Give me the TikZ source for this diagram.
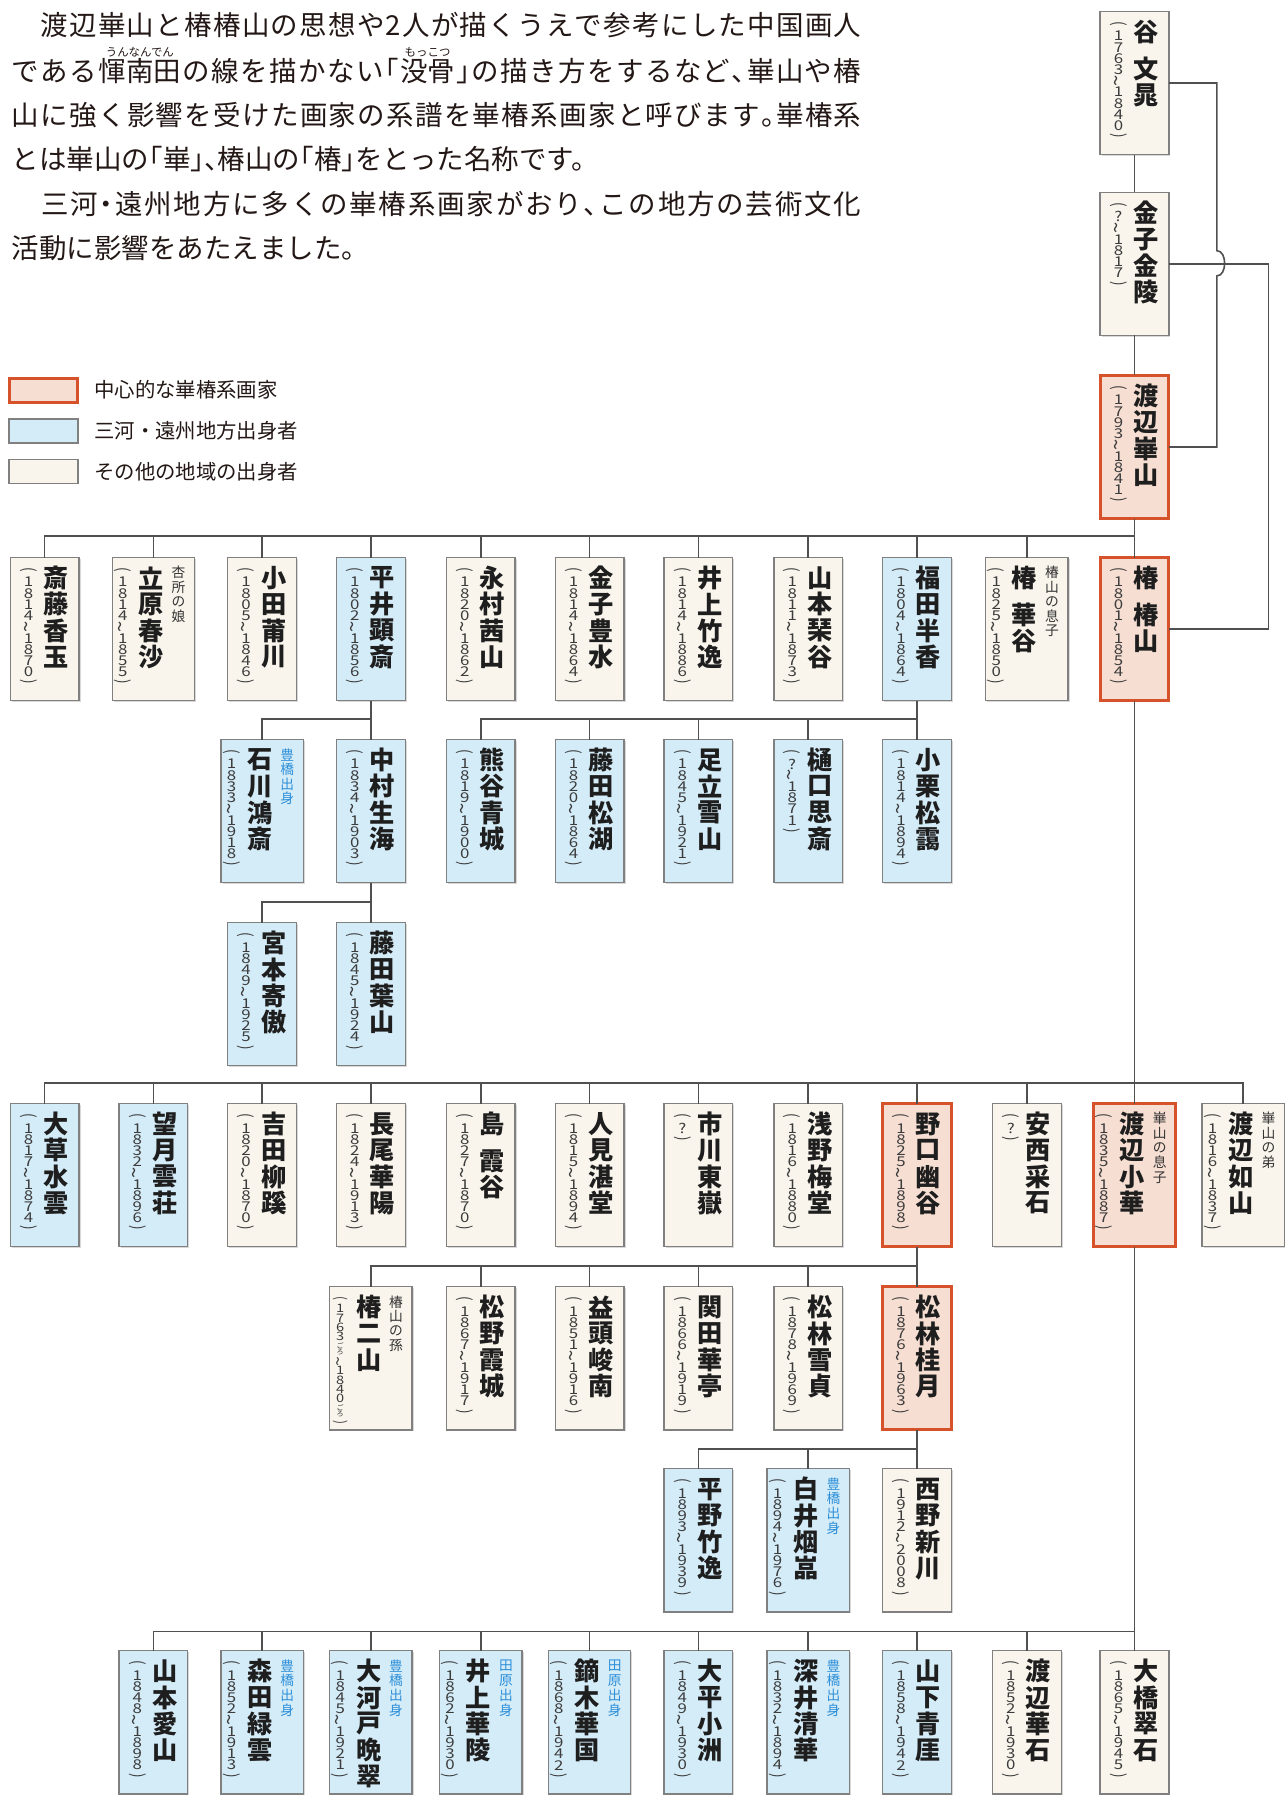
\documentclass[tikz,border=0pt]{standalone}
\usepackage{fontspec}
\usepackage{graphicx}
\usetikzlibrary{shadows}
\setmainfont{Noto Sans CJK JP}
\newfontfamily\parafont[RawFeature=+halt]{Noto Sans CJK JP}
\definecolor{cream}{HTML}{F9F5EC}
\definecolor{lblue}{HTML}{D4ECF8}
\definecolor{peach}{HTML}{F6DED2}
\definecolor{vermil}{HTML}{D5522B}
\definecolor{boxgray}{HTML}{808080}
\definecolor{linegray}{HTML}{505050}
\definecolor{noteblue}{HTML}{2E8FD8}
\definecolor{notegray}{HTML}{333333}
\definecolor{textcol}{HTML}{231815}
\definecolor{namecol}{HTML}{1E1E1E}
\definecolor{yrcol}{HTML}{3C3C3C}
\makeatletter
\newdimen\vsp
\def\Vgap{}
\def\Vgr{\vbox{\offinterlineskip\hbox{\fontsize{3.1pt}{3.1pt}\selectfont ご}\hbox{\fontsize{3.1pt}{3.1pt}\selectfont ろ}}}
\def\vs@Gitem{\Vgap}
\def\vs@GRitem{\Vgr}
\def\vsw#1{#1}
\newcommand\vst[2]{\vsp=#1\relax\vbox{\offinterlineskip\@tfor\vs@c:=#2\do{%
  \ifx\vs@c\vs@Gitem\vskip.4\vsp
  \else\ifx\vs@c\vs@GRitem\hbox to 0pt{\hss\vbox to1.6\vsp{\vss\hbox{\Vgr}\vss}\hss}%
  \else\hbox to 0pt{\hss\vbox to\vsp{\vss\hbox{\vsw{\vs@c}}\vss}\hss}\fi\fi}}}
\newcommand\jl[2]{\hbox to #1{\def\jl@s{}\@tfor\jl@c:=#2\do{\jl@s\jl@c\def\jl@s{\hfil}}}}
\newcommand\colat[3]{\rlap{\hskip#1\vbox to 62.5pt{\vskip#2\hbox to 0pt{\hss#3\hss}\vss}}}
\def\Vpo{\rotatebox[origin=c]{-90}{(}}
\def\Vpc{\rotatebox[origin=c]{-90}{)}}
\def\Vti{\rotatebox[origin=c]{90}{\scalebox{1.5}[1.2]{\textasciitilde}}}
\def\nmw{\bfseries}
\def\ncol{notegray}
\def\ypch{4.9pt}
\def\yfs{5.9pt}
\newcommand\yfont{\fontsize{\yfs}{\yfs}\selectfont\color{yrcol}\def\vsw{\scalebox{1.25}[1]}}
\newcommand\nfont{\fontsize{11pt}{11pt}\selectfont\nmw\color{namecol}}
\newcommand\ntfont{\fontsize{6pt}{6pt}\selectfont\color{\ncol}}
\newcommand\pcontent[4]{%
  \if\relax\detokenize{#2}\relax
    \def\pc@y{\vst{\ypch}{\Vpo #1\Vpc}}%
  \else
    \def\pc@y{\vst{\ypch}{\Vpo #1\Vti #2\Vpc}}%
  \fi
  \if\relax\detokenize{#4}\relax
    \hbox to 30pt{\colat{8pt}{3.4pt}{{\yfont\pc@y}}\colat{20pt}{3.2pt}{{\nfont\vst{11.5pt}{#3}}}\hfil}%
  \else
    \hbox to 36pt{\colat{4.6pt}{3.4pt}{{\yfont\pc@y}}\colat{17pt}{3.2pt}{{\nfont\vst{11.5pt}{#3}}}\colat{29pt}{3.4pt}{{\ntfont\vst{6.4pt}{#4}}}\hfil}%
  \fi}
\newcommand\person[8]{\node[#2,anchor=north] (#1) at (#3,#4) {\pcontent{#5}{#6}{#7}{#8}};}
\newcommand\ruby[2]{\hbox{\setbox0=\hbox{#1}\hbox to 0pt{\hbox to\wd0{\hss\raise11pt\hbox{\fontsize{5pt}{5pt}\selectfont#2}\hss}\hss}\box0}}
\newcommand\rubyA{\ruby{惲南田}{うんなんでん}}
\newcommand\rubyB{\ruby{没骨}{もっこつ}}
\makeatother
\tikzset{
  conn/.style={draw=linegray, line width=0.7pt},
  noteb/.code={\def\ncol{noteblue}},
  yrsmall/.code={\def\ypch{4.1pt}\def\yfs{5.1pt}},
  boxbase/.style={draw=boxgray, line width=0.6pt, inner sep=0pt, outer sep=0pt,
    drop shadow={shadow xshift=0.7pt, shadow yshift=-0.7pt, opacity=0.3}},
  pbeige/.style={boxbase, fill=cream},
  pblue/.style={boxbase, fill=lblue},
  porange/.style={boxbase, fill=peach, draw=vermil, line width=1.3pt},
  para/.style={inner sep=0pt, anchor=base west, font=\parafont\fontsize{12pt}{14pt}\selectfont, text=textcol},
  legbox/.style={minimum width=30pt, minimum height=10.5pt, inner sep=0pt, outer sep=0pt, line width=0.6pt, draw=boxgray},
  legtext/.style={inner sep=0pt, anchor=base west, font=\fontsize{8.9pt}{10pt}\selectfont, text=textcol},
}
\begin{document}
\begin{tikzpicture}[x=0.5pt,y=-0.5pt]
\useasboundingbox (0,0) rectangle (1122,1568);
\fill[white] (0,0) rectangle (1122,1568);

% paragraph
\node[para] (t1) at (10,31) {\jl{371pt}{　渡辺崋山と椿椿山の思想や2人が描くうえで参考にした中国画人}};
\node[para] (t2) at (10,71) {\jl{371pt}{である\rubyA の線を描かない「\rubyB 」の描き方をするなど、崋山や椿}};
\node[para] (t3) at (10,110) {\jl{371pt}{山に強く影響を受けた画家の系譜を崋椿系画家と呼びます。崋椿系}};
\node[para] (t4) at (10,148) {とは崋山の「崋」、椿山の「椿」をとった名称です。};
\node[para] (t5) at (10,187) {\jl{371pt}{　三河・遠州地方に多くの崋椿系画家がおり、この地方の芸術文化}};
\node[para] (t6) at (10,226) {活動に影響をあたえました。};

% legend
\node[legbox, fill=peach, draw=vermil, line width=1.2pt] (lg1) at (38,341) {};
\node[legbox, fill=lblue] (lg2) at (38,376.5) {};
\node[legbox, fill=cream] (lg3) at (38,412) {};
\node[legtext] (lt1) at (82,347.6) {中心的な崋椿系画家};
\node[legtext] (lt2) at (82,383.1) {三河・遠州地方出身者};
\node[legtext] (lt3) at (82,418.6) {その他の地域の出身者};

% top column
\person{tani}{pbeige}{991}{10}{1763}{1840}{谷\Vgap 文晁}{}
\person{kinryo}{pbeige}{991}{168}{?}{1817}{金子金陵}{}
\person{kazan}{porange}{991}{328}{1793}{1841}{渡辺崋山}{}

% row 1
\person{saito}{pbeige}{39}{487}{1814}{1870}{斎藤香玉}{}
\person{tachihara}{pbeige}{134}{487}{1814}{1855}{立原春沙}{杏所の娘}
\person{oda}{pbeige}{229}{487}{1805}{1846}{小田莆川}{}
\person{hirai}{pblue}{324}{487}{1802}{1856}{平井顕斎}{}
\person{nagamura}{pbeige}{420}{487}{1820}{1862}{永村茜山}{}
\person{kanekoH}{pbeige}{515}{487}{1814}{1864}{金子豊水}{}
\person{inoueC}{pbeige}{610}{487}{1814}{1886}{井上竹逸}{}
\person{yamamotoK}{pbeige}{706}{487}{1811}{1873}{山本琹谷}{}
\person{fukuda}{pblue}{801}{487}{1804}{1864}{福田半香}{}
\person{kakoku}{pbeige}{897}{487}{1825}{1850}{椿\Vgap 華谷}{椿山の息子}
\person{tsubaki}{porange}{991}{487}{1801}{1854}{椿\Vgap 椿山}{}

% row 2
\person{ishikawa}{pblue,noteb}{229}{646}{1833}{1918}{石川鴻斎}{豊橋出身}
\person{nakamura}{pblue}{324}{646}{1834}{1903}{中村生海}{}
\person{kumagai}{pblue}{420}{646}{1819}{1900}{熊谷青城}{}
\person{fujitaS}{pblue}{515}{646}{1820}{1864}{藤田松湖}{}
\person{adachi}{pblue}{610}{646}{1845}{1921}{足立雪山}{}
\person{higuchi}{pblue}{706}{646}{?}{1871}{樋口思斎}{}
\person{oguri}{pblue}{801}{646}{1814}{1894}{小栗松靄}{}

% row 3
\person{miyamoto}{pblue}{229}{806}{1849}{1925}{宮本寄傲}{}
\person{fujitaY}{pblue}{324}{806}{1845}{1924}{藤田葉山}{}

% row 4
\person{okusa}{pblue}{39}{964}{1817}{1874}{大草水雲}{}
\person{mochizuki}{pblue}{134}{964}{1832}{1896}{望月雲荘}{}
\person{yoshida}{pbeige}{229}{964}{1820}{1870}{吉田柳蹊}{}
\person{nagao}{pbeige}{324}{964}{1824}{1913}{長尾華陽}{}
\person{shima}{pbeige}{420}{964}{1827}{1870}{島\Vgap 霞谷}{}
\person{hitomi}{pbeige}{515}{964}{1815}{1894}{人見湛堂}{}
\person{ichikawa}{pbeige}{610}{964}{?}{}{市川東嶽}{}
\person{asano}{pbeige}{706}{964}{1816}{1880}{浅野梅堂}{}
\person{noguchi}{porange}{801}{964}{1825}{1898}{野口幽谷}{}
\person{anzai}{pbeige}{897}{964}{?}{}{安西采石}{}
\person{shoka}{porange}{991}{964}{1835}{1887}{渡辺小華}{崋山の息子}
\person{jozan}{pbeige}{1086}{964}{1816}{1837}{渡辺如山}{崋山の弟}

% row 5
\person{nizan}{pbeige,yrsmall}{324}{1124}{1763\Vgr}{1840\Vgr}{椿二山}{椿山の孫}
\person{matsunoK}{pbeige}{420}{1124}{1867}{1917}{松野霞城}{}
\person{masuzu}{pbeige}{515}{1124}{1851}{1916}{益頭峻南}{}
\person{sekida}{pbeige}{610}{1124}{1866}{1919}{関田華亭}{}
\person{setsutei}{pbeige}{706}{1124}{1878}{1969}{松林雪貞}{}
\person{keigetsu}{porange}{801}{1124}{1876}{1963}{松林桂月}{}

% row 6
\person{hirano}{pblue}{610}{1283}{1893}{1939}{平野竹逸}{}
\person{shirai}{pblue,noteb}{706}{1283}{1894}{1976}{白井烟嵓}{豊橋出身}
\person{nishino}{pbeige}{801}{1283}{1912}{2008}{西野新川}{}

% row 7
\person{yamamotoA}{pblue}{134}{1442}{1848}{1898}{山本愛山}{}
\person{morita}{pblue,noteb}{229}{1442}{1852}{1913}{森田緑雲}{豊橋出身}
\person{okawado}{pblue,noteb}{324}{1442}{1845}{1921}{大河戸晩翠}{豊橋出身}
\person{inoueK}{pblue,noteb}{420}{1442}{1862}{1930}{井上華陵}{田原出身}
\person{kaburagi}{pblue,noteb}{515}{1442}{1868}{1942}{鏑木華国}{田原出身}
\person{ohira}{pblue}{610}{1442}{1849}{1930}{大平小洲}{}
\person{fukai}{pblue,noteb}{706}{1442}{1832}{1894}{深井清華}{豊橋出身}
\person{yamashita}{pblue}{801}{1442}{1858}{1942}{山下青厓}{}
\person{kaseki}{pbeige}{897}{1442}{1852}{1930}{渡辺華石}{}
\person{suiseki}{pbeige}{991}{1442}{1865}{1945}{大橋翠石}{}

% ---- connectors ----
\coordinate (jA) at (1063,219);
\coordinate (jB) at (1108,0);
\draw[conn] (tani.south) -- (kinryo.north);
\draw[conn] (kinryo.south) -- (kazan.north);
\draw[conn] (kazan.south) -- (tsubaki.north);
\draw[conn] (tani.east) -- (tani.east -| jA) -- (jA) .. controls (1072,219) and (1072,241) .. (1063,241) -- (jA |- kazan.east) -- (kazan.east);
\draw[conn] (kinryo.east) -- (kinryo.east -| jB) -- (jB |- tsubaki.east) -- (tsubaki.east);

% row 1 bus
\coordinate (B1) at (0,468);
\draw[conn] (saito.north) -- (saito.north |- B1) -- (tsubaki.north |- B1);
\foreach \n in {tachihara,oda,hirai,nagamura,kanekoH,inoueC,yamamotoK,fukuda,kakoku}
  \draw[conn] (\n.north) -- (\n.north |- B1);

% row 2 buses
\coordinate (B2) at (0,628);
\draw[conn] (hirai.south) -- (nakamura.north);
\draw[conn] (ishikawa.north) -- (ishikawa.north |- B2) -- (nakamura.north |- B2);
\draw[conn] (fukuda.south) -- (oguri.north);
\draw[conn] (kumagai.north) -- (kumagai.north |- B2) -- (oguri.north |- B2);
\foreach \n in {fujitaS,adachi,higuchi}
  \draw[conn] (\n.north) -- (\n.north |- B2);

% row 3 bus
\coordinate (B3) at (0,788);
\draw[conn] (nakamura.south) -- (fujitaY.north);
\draw[conn] (miyamoto.north) -- (miyamoto.north |- B3) -- (fujitaY.north |- B3);

% row 4 bus
\coordinate (B4) at (0,946);
\draw[conn] (tsubaki.south) -- (shoka.north);
\draw[conn] (okusa.north) -- (okusa.north |- B4) -- (jozan.north |- B4) -- (jozan.north);
\foreach \n in {mochizuki,yoshida,nagao,shima,hitomi,ichikawa,asano,noguchi,anzai}
  \draw[conn] (\n.north) -- (\n.north |- B4);

% row 5 bus
\coordinate (B5) at (0,1106);
\draw[conn] (noguchi.south) -- (keigetsu.north);
\draw[conn] (nizan.north) -- (nizan.north |- B5) -- (keigetsu.north |- B5);
\foreach \n in {matsunoK,masuzu,sekida,setsutei}
  \draw[conn] (\n.north) -- (\n.north |- B5);

% row 6 bus
\coordinate (B6) at (0,1266);
\draw[conn] (keigetsu.south) -- (nishino.north);
\draw[conn] (hirano.north) -- (hirano.north |- B6) -- (nishino.north |- B6);
\draw[conn] (shirai.north) -- (shirai.north |- B6);

% row 7 bus
\coordinate (B7) at (0,1425);
\draw[conn] (shoka.south) -- (suiseki.north);
\draw[conn] (yamamotoA.north) -- (yamamotoA.north |- B7) -- (suiseki.north |- B7);
\foreach \n in {morita,okawado,inoueK,kaburagi,ohira,fukai,yamashita,kaseki}
  \draw[conn] (\n.north) -- (\n.north |- B7);
\end{tikzpicture}
\end{document}
